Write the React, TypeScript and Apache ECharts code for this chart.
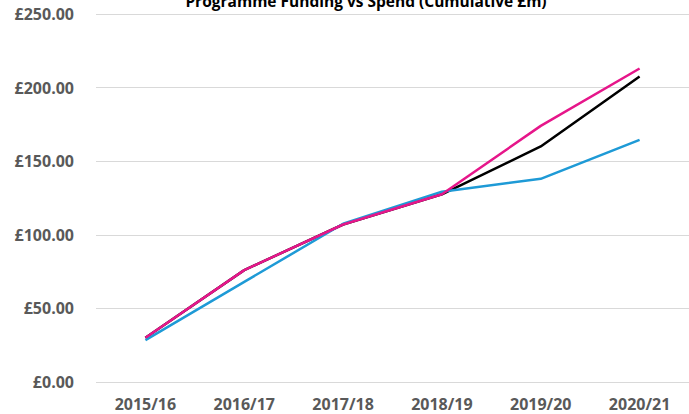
import React, { useEffect, useRef } from "react";
import * as echarts from "echarts";

const categories = ["2015/16", "2016/17", "2017/18", "2018/19", "2019/20", "2020/21"];
const forecastValues = [30, 76, 107, 127.5, 160, 207.5];
const spendValues = [28.5, 68, 107.5, 129.3, 138, 164.5];
const fundingValues = [30, 76, 107, 127.5, 174, 213];
const yTicks = { min: 0, max: 250, interval: 50 };

export default function App() {
  const ref = useRef<HTMLDivElement>(null);
  useEffect(() => {
    document.body.style.margin = "0";
    const chart = echarts.init(ref.current!, null, { renderer: "svg" });
    const font = "'Open Sans', 'Liberation Sans', sans-serif";
    chart.setOption({
      animation: false,
      title: {
        text: "Programme Funding vs Spend (Cumulative £m)",
        left: 361,
        textAlign: "center",
        top: -12,
        textStyle: { fontFamily: font, fontWeight: "bold", fontSize: 15.5, color: "#000" },
      },
      grid: { left: 96, right: -1, top: 14, bottom: 32 },
      xAxis: {
        type: "category",
        data: categories,
        boundaryGap: true,
        axisLine: { show: false },
        axisTick: { show: false },
        axisLabel: { fontFamily: font, fontWeight: "bold", fontSize: 16, color: "#595959", margin: 14 },
      },
      yAxis: {
        type: "value",
        min: yTicks.min,
        max: yTicks.max,
        interval: yTicks.interval,
        axisLine: { show: false },
        axisTick: { show: false },
        splitLine: { lineStyle: { color: "#d9d9d9", width: 1 } },
        axisLabel: {
          fontFamily: font,
          fontWeight: "bold",
          fontSize: 16,
          color: "#595959",
          margin: 22,
          formatter: (v: number) => "£" + v.toFixed(2),
        },
      },
      series: [
        { name: "Forecast", type: "line", data: forecastValues, symbol: "none", lineStyle: { color: "#000000", width: 2.5 }, z: 2 },
        { name: "Spend", type: "line", data: spendValues, symbol: "none", lineStyle: { color: "#1E9AD6", width: 2.5 }, z: 3 },
        { name: "Funding", type: "line", data: fundingValues, symbol: "none", lineStyle: { color: "#E6168A", width: 2.5 }, z: 4 },
      ],
    });
    return () => chart.dispose();
  }, []);
  return <div ref={ref} style={{ width: 689, height: 414 }} />;
}
